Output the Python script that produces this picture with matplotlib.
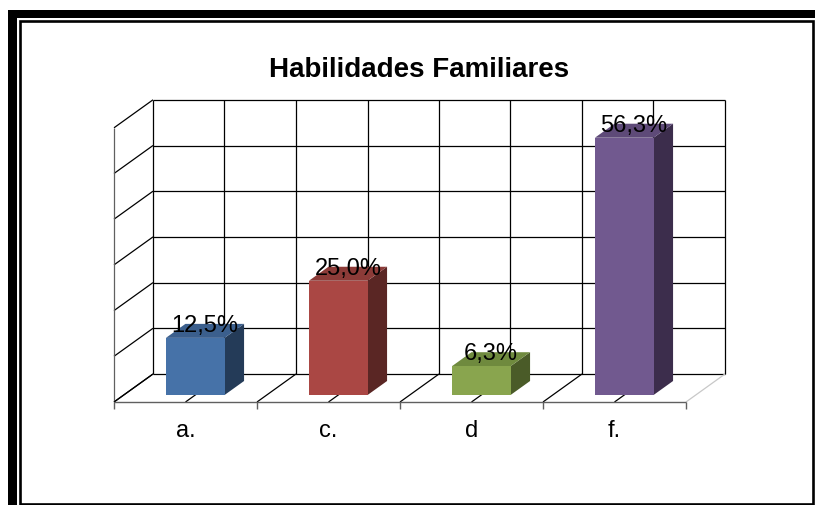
import matplotlib
matplotlib.use("Agg")
import matplotlib.pyplot as plt
from matplotlib.patches import Polygon, Rectangle

plt.rcParams["font.family"] = ["Liberation Sans", "DejaVu Sans"]

# ── data ────────────────────────────────────────────────────────────
title = "Habilidades Familiares"
categories = ["a.", "c.", "d", "f."]
values = [12.5, 25.0, 6.3, 56.3]
value_labels = ["12,5%", "25,0%", "6,3%", "56,3%"]
y_ticks = [0, 10, 20, 30, 40, 50, 60]

front_colors = ["#4672A8", "#AA4744", "#89A54E", "#71598F"]
side_colors = ["#243B58", "#5A2624", "#4A5B28", "#3C2D4C"]
top_colors = ["#3B5F8D", "#8C3B38", "#6F8A3E", "#5E4A78"]

# ── layout of the fake 3-D box (pixels) ─────────────────────────────
W, H, DPI = 815, 506, 100
PX_X = 143.0        # pixels per category
PX_Y = 4.57         # pixels per percent
X0_PX, Y0_PX = 114, 403   # front-left floor corner
DEPTH_PX = (39, 28)       # oblique offset of the back wall
DX = DEPTH_PX[0] / PX_X
DY = DEPTH_PX[1] / PX_Y
BAR_W = 0.41
D0, D1 = 0.25, 0.75
N = len(categories)
VMAX = y_ticks[-1]


def P(x, v, d):
    """category x, value v, depth d (0 front .. 1 back) -> data coords"""
    return (x + d * DX, v + d * DY)


def seg(ax, a, b, **kw):
    ax.plot([a[0], b[0]], [a[1], b[1]], solid_capstyle="butt", **kw)


fig = plt.figure(figsize=(W / DPI, H / DPI), dpi=DPI)
ax = fig.add_axes([0, 0, 1, 1])
ax.set_xlim(-0.5 - X0_PX / PX_X, -0.5 + (W - X0_PX) / PX_X)
ax.set_ylim(-(H - Y0_PX) / PX_Y, Y0_PX / PX_Y)
ax.axis("off")

left, right = -0.5, N - 0.5
grid = dict(color="black", lw=0.9, zorder=1)

# back wall
for t in y_ticks:
    seg(ax, P(left, t, 1), P(right, t, 1), **grid)
for k in range(2 * N + 1):
    x = left + 0.5 * k
    seg(ax, P(x, 0, 1), P(x, VMAX, 1), **grid)

# left wall
for t in y_ticks:
    seg(ax, P(left, t, 0), P(left, t, 1), **grid)
seg(ax, P(left, 0, 0), P(left, VMAX, 0), color="#606060", lw=0.9, zorder=1)

# floor
for k in range(2 * N):
    x = left + 0.5 * k
    seg(ax, P(x, 0, 0), P(x, 0, 1), **grid)
seg(ax, P(right, 0, 0), P(right, 0, 1), color="#C8C8C8", lw=0.9, zorder=1)
seg(ax, P(left, 0, 0), P(right, 0, 0), color="#606060", lw=1.0, zorder=1)
for k in range(N + 1):
    x = left + k
    seg(ax, P(x, 0, 0), P(x, -7 / PX_Y, 0), color="#606060", lw=1.0, zorder=1)

# bars
for i, v in enumerate(values):
    x0, x1 = i - BAR_W / 2, i + BAR_W / 2
    front = [P(x0, 0, D0), P(x1, 0, D0), P(x1, v, D0), P(x0, v, D0)]
    side = [P(x1, 0, D0), P(x1, 0, D1), P(x1, v, D1), P(x1, v, D0)]
    top = [P(x0, v, D0), P(x1, v, D0), P(x1, v, D1), P(x0, v, D1)]
    for poly, c in ((side, side_colors[i]), (top, top_colors[i]),
                    (front, front_colors[i])):
        ax.add_patch(Polygon(poly, closed=True, facecolor=c,
                             edgecolor="none", zorder=3))
    tx, ty = P(i, v, 0.5)
    ax.text(tx, ty, value_labels[i], ha="center", va="baseline",
            fontsize=17, color="black", zorder=5)

# category labels
for i, c in enumerate(categories):
    ax.text(i, -(437 - Y0_PX) / PX_Y, c, ha="center", va="baseline",
            fontsize=17, color="black")

# title
fig.text(419 / W, 1 - 76.7 / H, title, ha="center", va="baseline",
         fontsize=20, fontweight="bold", color="black")

# outer frame with shadow (pixel coordinates)
frame = fig.add_axes([0, 0, 1, 1], zorder=-1)
frame.set_xlim(0, W)
frame.set_ylim(H, 0)
frame.axis("off")
frame.add_patch(Rectangle((8.3, 11), 8.4, H - 11, facecolor="black",
                          edgecolor="none"))
frame.add_patch(Rectangle((8.3, 11), W - 8.3, 8, facecolor="black",
                          edgecolor="none"))
frame.add_patch(Rectangle((20.3, 22.3), 792.5, 482.2, facecolor="none",
                          edgecolor="black", lw=1.9))

fig.savefig("out.png", dpi=DPI)
